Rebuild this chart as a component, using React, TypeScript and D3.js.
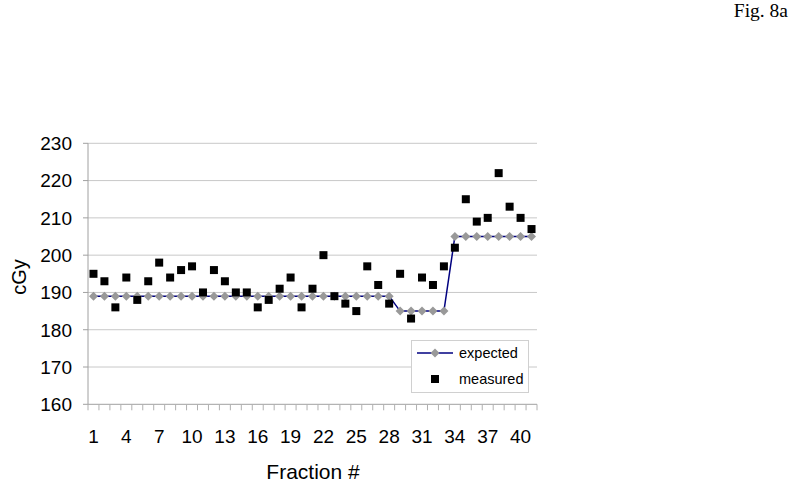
import React from "react";
import * as d3 from "d3";

const fractions = d3.range(1, 42);
const expected = [
  189, 189, 189, 189, 189, 189, 189, 189, 189, 189,
  189, 189, 189, 189, 189, 189, 189, 189, 189, 189,
  189, 189, 189, 189, 189, 189, 189, 189, 185, 185,
  185, 185, 185, 205, 205, 205, 205, 205, 205, 205, 205,
];
const measured = [
  195, 193, 186, 194, 188, 193, 198, 194, 196, 197,
  190, 196, 193, 190, 190, 186, 188, 191, 194, 186,
  191, 200, 189, 187, 185, 197, 192, 187, 195, 183,
  194, 192, 197, 202, 215, 209, 210, 222, 213, 210, 207,
];
const yTicks = [160, 170, 180, 190, 200, 210, 220, 230];
const xLabelFractions = [1, 4, 7, 10, 13, 16, 19, 22, 25, 28, 31, 34, 37, 40];

export default function App() {
  const W = 800, H = 491;
  const left = 88, right = 537, top = 143.3, bottom = 404.3;
  const x = d3.scaleBand<number>().domain(fractions).range([left, right]).padding(0);
  const y = d3.scaleLinear().domain([160, 230]).range([bottom, top]);
  const cx = (f: number) => (x(f) as number) + x.bandwidth() / 2;
  const line = d3.line<number>().x((_, i) => cx(fractions[i])).y((v) => y(v));
  const font = "Arial, 'Liberation Sans', sans-serif";
  const diamond = (px: number, py: number, r = 4.5) =>
    `M${px},${py - r}L${px + r},${py}L${px},${py + r}L${px - r},${py}Z`;
  const tickXs = fractions.map((f) => x(f) as number).concat([right]);

  return (
    <svg width={W} height={H} style={{ position: "absolute", left: 0, top: 0, background: "#fff" }} fontFamily={font}>
      <rect x={0} y={0} width={W} height={H} fill="#fff" />
      <text x={788} y={17} textAnchor="end" fontFamily="'Liberation Serif', 'Times New Roman', serif" fontSize={19.5} fill="#000">Fig. 8a</text>
      {/* gridlines */}
      {yTicks.filter((t) => t !== 160).map((t) => (
        <line key={t} x1={left} x2={right} y1={y(t)} y2={y(t)} stroke="#c8c8c8" strokeWidth={1} />
      ))}
      {/* y axis */}
      <line x1={left} x2={left} y1={top} y2={bottom} stroke="#a0a0a0" />
      {yTicks.map((t) => (
        <g key={t}>
          <line x1={left - 5} x2={left} y1={y(t)} y2={y(t)} stroke="#a0a0a0" />
          <text x={72} y={y(t)} dy="0.36em" textAnchor="end" fontSize={19} fill="#000">{t}</text>
        </g>
      ))}
      {/* x axis */}
      <line x1={left} x2={right} y1={bottom} y2={bottom} stroke="#a0a0a0" />
      {tickXs.map((tx, i) => (
        <line key={i} x1={tx} x2={tx} y1={bottom} y2={bottom + 6} stroke="#b0b0b0" />
      ))}
      {xLabelFractions.map((f) => (
        <text key={f} x={cx(f)} y={443} textAnchor="middle" fontSize={19} fill="#000">{f}</text>
      ))}
      <text x={313} y={479} textAnchor="middle" fontSize={21} fill="#000">Fraction #</text>
      <text transform={`translate(26,277) rotate(-90)`} textAnchor="middle" fontSize={20} fill="#000">cGy</text>
      {/* expected line */}
      <path d={line(expected) || ""} fill="none" stroke="#000080" strokeWidth={1.5} />
      {expected.map((v, i) => (
        <path key={i} d={diamond(cx(fractions[i]), y(v))} fill="#999999" />
      ))}
      {/* measured */}
      {measured.map((v, i) => (
        <rect key={i} x={cx(fractions[i]) - 4} y={y(v) - 4} width={8} height={8} fill="#000" />
      ))}
      {/* legend */}
      <rect x={411.5} y={340.5} width={117} height={52} fill="#fff" stroke="#d0d0d0" />
      <line x1={417} x2={453} y1={353} y2={353} stroke="#000080" strokeWidth={1.5} />
      <path d={diamond(435, 353)} fill="#999999" />
      <text x={459} y={353} dy="0.35em" fontSize={14.5} fill="#000">expected</text>
      <rect x={431} y={375} width={8} height={8} fill="#000" />
      <text x={459} y={379} dy="0.35em" fontSize={14.5} fill="#000">measured</text>
    </svg>
  );
}
